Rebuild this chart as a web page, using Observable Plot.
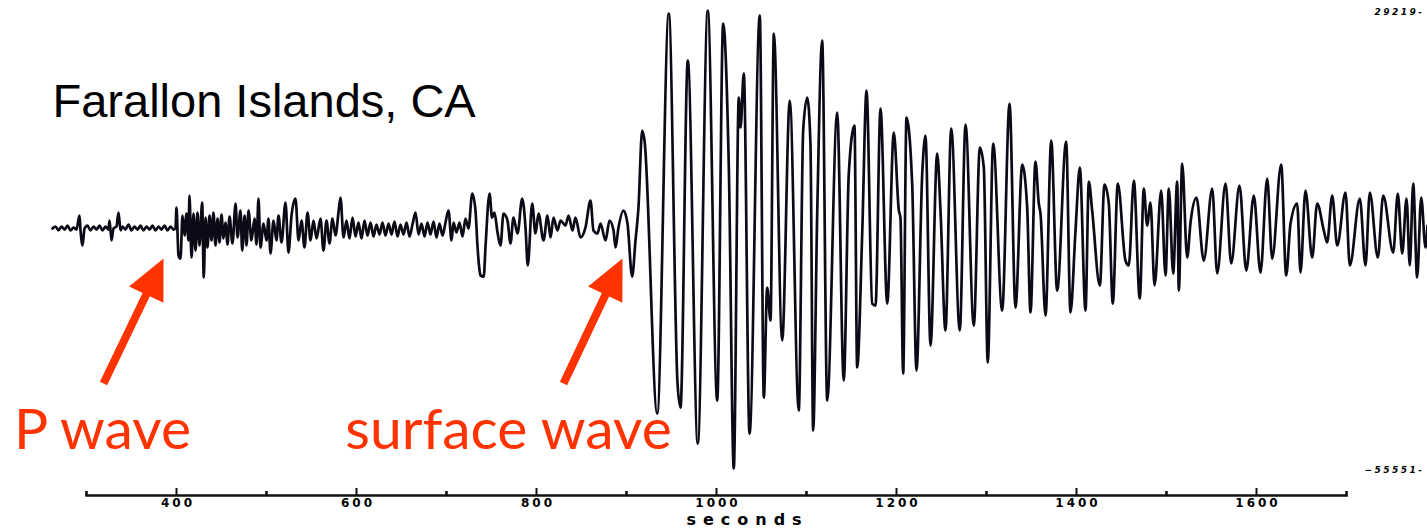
<!DOCTYPE html>
<html>
<head>
<meta charset="utf-8">
<script src="https://cdn.jsdelivr.net/npm/d3@7"></script>
<script src="https://cdn.jsdelivr.net/npm/@observablehq/plot@0.6"></script>
<style>
  html, body { margin: 0; padding: 0; background: #fff; }
  #chart { width: 1427px; height: 529px; overflow: hidden; }
</style>
</head>
<body>
<div id="chart"></div>
<script>
// ---- Seismogram trace: [time (s), ground motion (counts)] ----
const preP = [[262.2,-11130],[265.6,-10760],[268.9,-11500],[272.2,-10760],[275.6,-11320],[278.9,-10580],[282.2,-11500],[285.6,-10950],[288.9,-11320],[292.2,-8730],[293.3,-11320],[295.6,-14280],[297.8,-11130],[301.1,-10580],[304.4,-11500],[307.8,-10760],[311.1,-11320],[314.4,-10580],[317.8,-11500],[321.1,-10760],[324.4,-11320],[325.6,-9650],[327.8,-13350],[330.0,-11130],[333.3,-10760],[335.6,-8170],[337.8,-11500],[340.0,-10760],[343.3,-11320],[346.7,-10390],[350.0,-11500],[353.3,-10760],[356.7,-11320],[360.0,-10580],[363.3,-11500],[366.7,-10760],[370.0,-11320],[373.3,-10580],[376.7,-11500],[380.0,-10760],[383.3,-11320],[386.7,-10580],[390.0,-11500],[393.3,-10760],[396.7,-11320],[398.9,-11130]];

const pCoda = [[400.0,-7250],[402.2,-16130],[404.4,-16690],[406.7,-8730],[408.9,-12430],[411.1,-8360],[413.3,-13350],[414.4,-5030],[416.7,-16500],[418.9,-8360],[421.1,-15210],[423.3,-8170],[425.6,-14280],[428.5,-6320],[430.3,-20200],[432.2,-9100],[434.4,-14650],[436.7,-8730],[438.9,-13350],[441.1,-8170],[443.3,-14280],[445.6,-9280],[447.8,-13720],[450.0,-8540],[452.2,-12980],[454.4,-10020],[456.7,-14090],[458.9,-8910],[462.2,-13910],[465.6,-6510],[467.8,-12800],[471.1,-7800],[473.0,-15210],[475.6,-8730],[477.8,-14280],[480.0,-7800],[483.3,-13350],[486.7,-9280],[488.9,-14090],[491.1,-5580],[493.3,-14650],[496.7,-10210],[500.0,-13350],[502.2,-9280],[504.4,-15760],[507.8,-9650],[511.1,-13350],[513.3,-8730],[516.7,-13720],[521.1,-6320],[524.4,-15580],[527.8,-8730],[532.2,-5580],[535.6,-13350],[538.9,-9650],[542.2,-14650],[545.6,-8170],[548.9,-13350],[552.2,-9650],[555.6,-12980],[560.0,-9280],[563.3,-15210],[566.7,-9650],[570.0,-13910],[573.3,-9280],[576.7,-12430],[580.0,-8170],[582.2,-5400],[585.6,-12800],[588.9,-9650],[592.2,-12980],[595.6,-9100],[598.9,-12610],[602.2,-10020],[605.6,-12980],[608.9,-9650],[612.2,-12430],[615.6,-10020],[618.9,-12610],[622.2,-10390],[625.6,-12240],[628.9,-10020],[632.2,-12430],[635.6,-10210],[638.9,-12240],[642.2,-9840],[645.6,-12610],[648.9,-10390],[652.2,-12240],[655.6,-10020],[658.9,-12610],[662.2,-10390],[665.6,-8170],[668.9,-12240],[672.2,-10210],[675.6,-12610],[678.9,-10020],[682.2,-12240],[685.6,-9840],[688.9,-12800],[692.2,-10210],[695.6,-12430],[698.9,-10020],[702.2,-7800],[705.6,-13350]];

const preSurface = [[707.8,-10020],[711.1,-11870],[714.4,-10020],[717.8,-12610],[721.1,-9280],[724.4,-11130],[728.6,-4650],[732.2,-7800],[734.4,-14280],[736.1,-17980],[737.8,-19830],[741.4,-20020],[743.3,-14650],[747.8,-4650],[750.6,-9100],[753.3,-8170],[756.7,-11870],[760.0,-14280],[763.3,-8360],[767.8,-9650],[771.1,-13910],[774.4,-9100],[778.9,-12060],[784.1,-5580],[787.8,-10950],[790.3,-17980],[795.2,-6510],[798.9,-12060],[802.2,-8360],[807.8,-13350],[812.2,-8730],[815.6,-12800],[818.9,-9100],[823.3,-11500],[826.7,-9650],[832.2,-10580],[835.6,-8730],[840.0,-11500],[843.3,-9100],[848.9,-12800],[854.4,-10950],[860.0,-5950],[863.3,-11500],[867.8,-12060],[871.1,-10210],[876.7,-13350],[881.1,-9650],[885.6,-11500],[887.8,-14650],[891.1,-10950],[896.7,-7800],[901.1,-10210],[906.3,-20020],[910.0,-13350],[913.3,-7250]];

const surfaceWaves = [[917.4,7010],[920.0,5160],[934.1,-45380],[947.0,28660],[956.7,-39820],[960.0,-44270],[968.1,19960],[979.2,-50930],[990.3,29219],[1000.8,-42970],[1007.4,26810],[1013.7,160],[1019.2,-55551],[1024.8,13120],[1026.7,7560],[1030.3,17560],[1036.7,-49080],[1048.1,28290],[1052.6,-42420],[1056.3,-22050],[1060.0,-28160],[1063.7,24960],[1073.0,-31860],[1081.4,12560],[1091.4,-44820],[1096.3,7010],[1100.8,13120],[1104.4,4600],[1107.4,-48520],[1111.9,-8360],[1117.4,23670],[1123.0,-42970],[1134.1,10340],[1141.4,-39270],[1147.0,-950],[1153.3,7930],[1156.3,-36860],[1161.9,-12060],[1166.7,14410],[1173.0,-25020],[1176.7,-25390],[1182.2,11080],[1189.7,-25020],[1197.0,6640],[1202.6,-7800],[1204.4,-9100],[1207.4,-37970],[1211.1,9410],[1217.4,-2800],[1222.2,-37420],[1228.6,-950],[1232.2,6080],[1237.8,-32790],[1245.2,2750],[1248.9,-7800],[1254.4,-30010],[1260.8,7380],[1270.3,-30010],[1276.7,8120],[1285.9,-29090],[1292.6,3860],[1297.0,160],[1301.4,-35940],[1307.4,4600],[1317.4,-26310],[1325.6,12010],[1332.2,-25760],[1339.7,710],[1345.2,-7250],[1348.9,-26680],[1354.4,1270],[1358.1,-6510],[1360.0,-8360],[1365.6,-27240],[1371.9,5160],[1378.5,-22610],[1388.5,4970],[1393.3,-26680],[1398.9,-11500],[1403.7,160],[1410.0,-26310],[1413.7,-2430],[1417.4,-7800],[1425.9,-21680],[1431.1,-2990],[1435.9,-6510],[1440.3,-25020],[1445.9,-2800],[1454.4,-17060],[1458.1,-17980],[1463.7,-2250],[1470.3,-24090],[1474.8,-3730],[1478.5,-10580],[1482.2,-6320],[1486.7,-21680],[1494.1,-4100],[1498.9,-19830],[1502.6,-3730],[1507.4,-19460],[1511.9,-2430],[1513.7,-22610],[1517.4,900],[1523.0,-16500],[1526.7,-10020],[1533.3,-5400],[1541.4,-17060],[1550.8,-3730],[1556.3,-19460],[1565.6,-2800],[1571.9,-17610],[1581.1,-3170],[1588.6,-18910],[1597.0,-5030],[1604.4,-19280],[1611.9,-1880],[1617.4,-16690],[1627.4,710],[1633.0,-19830],[1637.8,-10210],[1645.2,-6510],[1648.9,-19280],[1654.4,-4100],[1661.9,-16500],[1667.4,-6510],[1674.8,-11500],[1678.5,-13720],[1684.1,-5030],[1689.7,-14280],[1698.9,-4470],[1703.7,-17980],[1714.8,-5580],[1721.1,-17980],[1725.9,-4470],[1734.8,-16500],[1740.8,-5030],[1751.9,-15580],[1757.0,-4650],[1761.9,-15760],[1766.7,-5580],[1770.3,-17980],[1774.1,-2800],[1778.5,-20200],[1783.0,-5400],[1787.8,-14650],[1790.0,-10580]];

// ---- Axis ----
const axisExtent = [300, 1700];
const minorTicks = [300, 500, 700, 900, 1100, 1300, 1500, 1700];
const majorTicks = [400, 600, 800, 1000, 1200, 1400, 1600];
const axisTitle = ["seconds"];

// ---- Trace extremes (printed at right) ----
const extremeValues = [29219, -55551];
const extremeLabels = ["29219-", "\u221255551-"];

// ---- Text & annotations ----
const stationTitle = ["Farallon Islands, CA"];
const phaseLabels = ["P wave", "surface wave"];
const arrowTailTime = [318.9, 830.0];
const arrowTailCounts = [-39820, -39820];
const arrowTipTime = [385.6, 895.6];
const arrowTipCounts = [-16690, -16690];

const trace = [...preP, ...pCoda, ...preSurface, ...surfaceWaves].map(([t, c]) => ({t, c}));
const extremes = extremeValues.map((v, i) => ({value: v, label: extremeLabels[i]}));
const arrows = phaseLabels.map((label, i) => ({
  label,
  x1: arrowTailTime[i], y1: arrowTailCounts[i],
  x2: arrowTipTime[i], y2: arrowTipCounts[i]
}));

const RED = "#ff3300";
const INK = "#0b0b17";

// filled triangular arrowhead, tip at the origin, tilted along the arrow shaft
const headAngle = 25.6 * Math.PI / 180, headLen = 40, headHalf = 19;
const arrowHead = {
  draw(ctx) {
    const s = Math.sin(headAngle), c = Math.cos(headAngle);
    const bx = -headLen * s, by = headLen * c;
    ctx.moveTo(0, 0);
    ctx.lineTo(bx + headHalf * c, by + headHalf * s);
    ctx.lineTo(bx - headHalf * c, by - headHalf * s);
    ctx.closePath();
  }
};

const chart = Plot.plot({
  width: 1427,
  height: 529,
  marginLeft: 86,
  marginRight: 81,
  marginTop: 10,
  marginBottom: 34,
  style: {background: "#fff", overflow: "visible"},
  x: {domain: axisExtent},
  y: {domain: [extremeValues[1], extremeValues[0]], range: [468, 10], axis: null},
  marks: [
    Plot.line(trace, {x: "t", y: "c", stroke: INK, strokeWidth: 2.7, strokeLinejoin: "round", curve: "monotone-x"}),
    Plot.frame({anchor: "bottom", stroke: "#111", strokeWidth: 2.6}),
    Plot.axisX({ticks: minorTicks, tickSize: -4, fill: "none", stroke: "#111", strokeWidth: 2.6, label: null}),
    Plot.axisX({ticks: majorTicks, tickSize: -7, fill: "none", stroke: "#111", strokeWidth: 2, label: null}),
    Plot.axisX({ticks: majorTicks, tickSize: 0, tickPadding: 3, stroke: "none", label: null, tickFormat: d => String(d),
      fontSize: 12, fontWeight: "bold", fontFamily: "DejaVu Sans", fill: "#000", dx: 1.5}),
    Plot.text(axisTitle, {frameAnchor: "bottom", dx: 31, dy: 24, lineAnchor: "middle",
      fontSize: 16, fontWeight: "bold", fontFamily: "DejaVu Sans", fill: "#000"}),
    Plot.text(extremes, {y: "value", text: "label", frameAnchor: "right", dx: 78, dy: 2, textAnchor: "end",
      fontSize: 9, fontWeight: "bold", fontStyle: "italic", fontFamily: "DejaVu Sans", fill: "#000"}),
    Plot.text(stationTitle, {frameAnchor: "top-left", dx: -34, dy: 73, lineAnchor: "top", textAnchor: "start",
      fontSize: 47, fontFamily: "Liberation Sans, Arial, sans-serif", fill: "#000"}),
    Plot.arrow(arrows, {x1: "x1", y1: "y1", x2: "x2", y2: "y2", stroke: RED, strokeWidth: 8,
      headLength: 0, insetEnd: 22, strokeLinecap: "butt"}),
    Plot.dot(arrows, {x: "x2", y: "y2", symbol: arrowHead, fill: RED, stroke: "none"}),
    Plot.text(arrows.filter(d => d.label === "P wave"), {x: "x1", y: "y1", text: "label", textAnchor: "middle",
      lineAnchor: "top", dx: -1, dy: 25, fontSize: 57, fontFamily: "Lato, sans-serif", fill: RED}),
    Plot.text(arrows.filter(d => d.label === "surface wave"), {x: "x1", y: "y1", text: "label", textAnchor: "middle",
      lineAnchor: "top", dx: -55, dy: 25, fontSize: 57, fontFamily: "Lato, sans-serif", fill: RED})
  ]
});

// letter spacing for the wide plotter-style lettering
const spacing = new Map([
  ...majorTicks.map(t => [String(t), "3px"]),
  [axisTitle[0], "7px"],
  ...extremeLabels.map(l => [l, "2.5px"])
]);
chart.querySelectorAll("text").forEach(el => {
  const s = spacing.get(el.textContent);
  if (s) el.style.letterSpacing = s;
});

document.getElementById("chart").appendChild(chart);
</script>
</body>
</html>
